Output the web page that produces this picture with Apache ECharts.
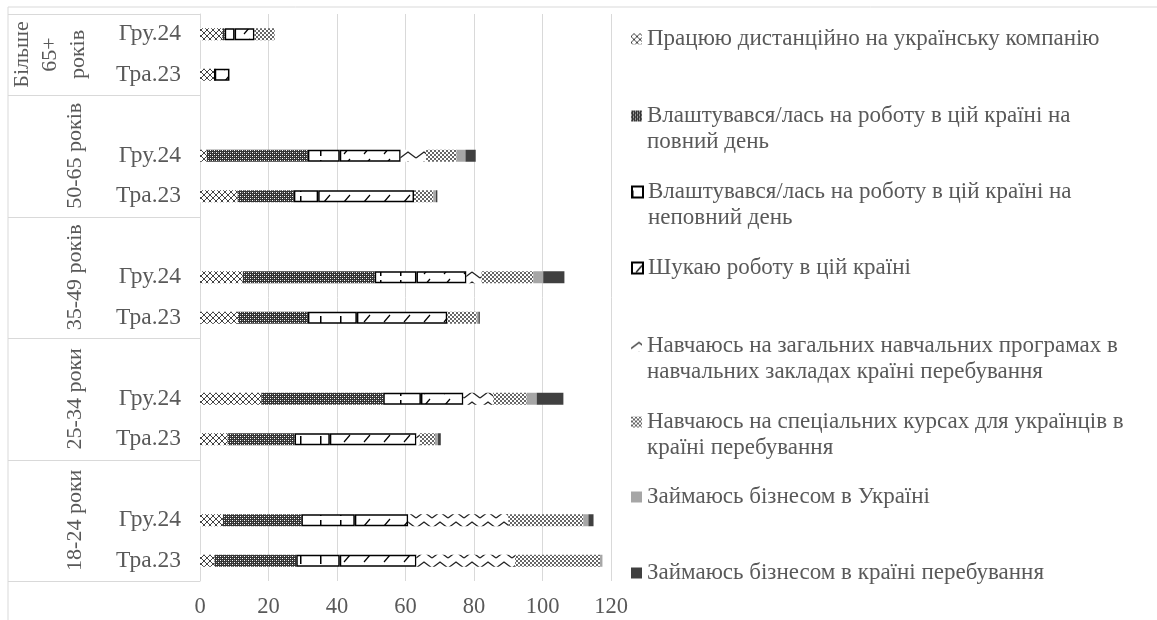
<!DOCTYPE html>
<html><head><meta charset="utf-8">
<script src="https://cdn.jsdelivr.net/npm/echarts@6/dist/echarts.min.js"></script>
<style>html,body{margin:0;padding:0;background:#fff}#c{width:1157px;height:620px}</style>
</head><body><div id="c"></div>
<script>
// ---- data ----
const ageGroups = ['18-24 роки', '25-34 роки', '35-49 років', '50-65 років', 'Більше\n65+\nроків'];
const periods = ['Тра.23', 'Гру.24'];
const seriesNames = [
  'Працюю дистанційно на українську компанію',
  'Влаштувався/лась на роботу в цій країні на повний день',
  'Влаштувався/лась на роботу в цій країні на неповний день',
  'Шукаю роботу в цій країні',
  'Навчаюсь на загальних навчальних програмах в навчальних закладах країні перебування',
  'Навчаюсь на спеціальних курсах для українців в країні перебування',
  'Займаюсь бізнесом в Україні',
  'Займаюсь бізнесом в країні перебування'
];
const legendLines = [
  ['Працюю дистанційно на українську компанію'],
  ['Влаштувався/лась на роботу в цій країні на', 'повний день'],
  ['Влаштувався/лась на роботу в цій країні на', 'неповний день'],
  ['Шукаю роботу в цій країні'],
  ['Навчаюсь на загальних навчальних програмах в', 'навчальних закладах країні перебування'],
  ['Навчаюсь на спеціальних курсах для українців в', 'країні перебування'],
  ['Займаюсь бізнесом в Україні'],
  ['Займаюсь бізнесом в країні перебування']
];
// values per age group: [Тра.23, Гру.24]
const remote       = [4.2, 6.7, 8.1, 17.9, 11.1, 12.5, 11.0, 2.0, 4.3, 6.5];
const fullTime     = [23.9, 22.9, 19.5, 35.6, 20.4, 38.5, 16.4, 29.5, 0, 0.7];
const partTime     = [12.7, 15.6, 10.3, 11.0, 14.3, 12.2, 7.1, 9.3, 0, 2.9];
const jobSearch    = [22.4, 15.6, 25.3, 12.4, 26.4, 14.6, 28.0, 17.8, 4.3, 5.8];
const studyGeneral = [28.8, 29.2, 1.0, 8.7, 0, 4.4, 0, 7.4, 0, 0];
const studyCourses = [24.8, 21.9, 4.4, 9.8, 8.6, 15.1, 5.6, 8.9, 0, 5.9];
const bizUkraine   = [0.7, 1.5, 0.9, 2.9, 0.5, 2.9, 0.8, 2.6, 0, 0];
const bizHost      = [0, 1.5, 0.8, 7.8, 0.4, 6.2, 0.4, 3.0, 0, 0];
const xMin = 0, xMax = 120, xStep = 20;

const allValues = [remote, fullTime, partTime, jobSearch, studyGeneral, studyCourses, bizUkraine, bizHost];

// ---- build category table (blank slot above every group except the last) ----
const categories = [];
const groupRange = [];
ageGroups.forEach((g, gi) => {
  const first = categories.length;
  periods.forEach(p => categories.push(p));
  if (gi < ageGroups.length - 1) categories.push('');
  groupRange.push([first, categories.length - 1]);
});
function expand(arr) {
  const out = [];
  ageGroups.forEach((g, gi) => {
    out.push(arr[gi * 2], arr[gi * 2 + 1]);
    if (gi < ageGroups.length - 1) out.push('-');
  });
  return out;
}

// ---- patterns ----
function pat(w, h, draw) {
  const c = document.createElement('canvas');
  c.width = w; c.height = h;
  const ctx = c.getContext('2d');
  ctx.fillStyle = '#fff'; ctx.fillRect(0, 0, w, h);
  draw(ctx);
  return { image: c, repeat: 'repeat' };
}
function px(ctx, pts, col) { ctx.fillStyle = col; pts.forEach(p => ctx.fillRect(p[0], p[1], 1, 1)); }
const fills = [
  pat(6, 6, ctx => px(ctx, [[2,0],[3,0],[1,1],[4,1],[0,2],[5,2],[0,3],[5,3],[1,4],[4,4],[2,5],[3,5]], '#444')),
  pat(4, 4, ctx => { ctx.fillStyle = '#333'; ctx.fillRect(0,0,4,4); px(ctx, [[0,0],[2,2]], '#fff'); px(ctx, [[2,0],[0,2]], '#8a8a8a'); }),
  pat(20, 12, ctx => { ctx.fillStyle = '#000'; ctx.fillRect(0, 4, 1.5, 8); }),
  pat(20, 12, ctx => { ctx.strokeStyle = '#000'; ctx.lineWidth = 1.2; ctx.beginPath(); ctx.moveTo(4, 10); ctx.lineTo(10, 3); ctx.stroke(); }),
  pat(16, 10, ctx => { ctx.strokeStyle = '#222'; ctx.lineWidth = 1.4; ctx.beginPath(); ctx.moveTo(0, 8); ctx.lineTo(8, 2); ctx.lineTo(16, 8); ctx.stroke(); }),
  pat(4, 4, ctx => { ctx.fillStyle = '#666'; ctx.fillRect(0,0,2,2); ctx.fillRect(2,2,2,2); }),
  '#a6a6a6',
  '#404040'
];
const bordered = [false, false, true, true, false, false, false, false];

const FONT = 'Liberation Serif';
const TXT = '#595959';

const series = seriesNames.map((n, i) => ({
  name: n,
  type: 'bar',
  stack: 'total',
  barWidth: 12,
  data: expand(allValues[i]),
  itemStyle: Object.assign({ color: fills[i] }, bordered[i] ? { borderColor: '#000', borderWidth: 1.5 } : { borderWidth: 0 }),
  emphasis: { disabled: true },
  animation: false
}));

const legendCenters = [39, 116, 192, 268, 346, 422, 497, 573];
const legends = seriesNames.map((n, i) => {
  const two = legendLines[i].length > 1;
  return {
    data: [{ name: n, icon: 'rect' }],
    left: 631,
    top: legendCenters[i] - (two ? 39 : 13),
    orient: 'vertical',
    padding: 0,
    itemWidth: 11,
    itemHeight: 11,
    itemGap: 0,
    selectedMode: false,
    formatter: () => two ? ' \n' + legendLines[i].join('\n') : legendLines[i][0],
    textStyle: { fontFamily: FONT, fontSize: 23, color: TXT, lineHeight: 26 }
  };
});

const chart = echarts.init(document.getElementById('c'), null, { renderer: 'canvas' });
chart.setOption({
  animation: false,
  backgroundColor: '#fff',
  grid: { left: 200, right: 546, top: 14, bottom: 39 },
  xAxis: {
    type: 'value', min: xMin, max: xMax, interval: xStep,
    axisLine: { show: false }, axisTick: { show: false },
    splitLine: { lineStyle: { color: '#d9d9d9', width: 1 } },
    axisLabel: { fontFamily: FONT, fontSize: 22.5, color: TXT, margin: 15 }
  },
  yAxis: {
    type: 'category', data: categories,
    axisLine: { lineStyle: { color: '#d9d9d9' } }, axisTick: { show: false },
    axisLabel: { fontFamily: FONT, fontSize: 23.5, color: TXT, margin: 19 }
  },
  legend: legends,
  series: series
});

// ---- multi-level axis decorations from the axis scale ----
const yOf = idx => chart.convertToPixel({ gridIndex: 0 }, [0, idx])[1];
const band = yOf(0) - yOf(1);
const gridLeft = chart.convertToPixel({ gridIndex: 0 }, [0, 0])[0];
const graphics = [
  { type: 'rect', shape: { x: 8, y: 7, width: 1300, height: 800 }, style: { fill: 'none', stroke: '#d9d9d9', lineWidth: 1 }, silent: true }
];
const bounds = [yOf(0) + band / 2];
groupRange.forEach(r => bounds.push(yOf(r[1]) - band / 2));
bounds.forEach(y => {
  graphics.push({ type: 'line', shape: { x1: 8, y1: Math.round(y) + 0.5, x2: gridLeft, y2: Math.round(y) + 0.5 }, style: { stroke: '#d9d9d9', lineWidth: 1 }, silent: true });
});
ageGroups.forEach((g, gi) => {
  const r = groupRange[gi];
  const yc = (yOf(r[0]) + yOf(r[1])) / 2;
  const multi = g.indexOf('\n') >= 0;
  graphics.push({
    type: 'text', x: multi ? 50 : 75, y: yc, rotation: Math.PI / 2, silent: true,
    style: { text: g, fontFamily: FONT, fontSize: 22, fill: TXT, align: 'center', verticalAlign: 'middle', lineHeight: 28 }
  });
});
chart.setOption({ graphic: graphics });
</script>
</body></html>
